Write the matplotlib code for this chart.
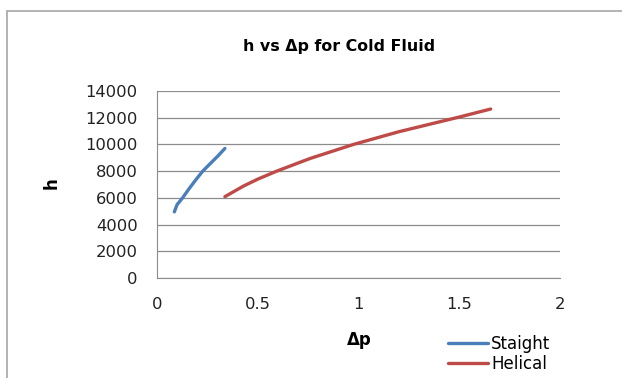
import matplotlib.pyplot as plt
from matplotlib.patches import Rectangle

# values
straight_dp = [0.086, 0.10, 0.127, 0.16, 0.19, 0.227, 0.26, 0.30, 0.337]
straight_h = [4950, 5500, 6000, 6700, 7300, 8000, 8500, 9100, 9700]

helical_dp = [0.337, 0.43, 0.50, 0.594, 0.76, 0.975, 1.2, 1.5, 1.656]
helical_h = [6090, 6890, 7400, 8000, 8950, 10000, 10950, 12050, 12650]

x_ticks = [0, 0.5, 1, 1.5, 2]
x_tick_labels = ['0', '0.5', '1', '1.5', '2']
y_ticks = [0, 2000, 4000, 6000, 8000, 10000, 12000, 14000]

BLUE = '#4a7ebb'
RED = '#be4b48'
GRID = '#8c8c8c'

plt.rcParams['font.family'] = ['DejaVu Sans']

fig = plt.figure(figsize=(6.22, 3.78), dpi=100)
fig.patch.set_facecolor('white')

# outer chart frame (cut off at the right and bottom)
fig.patches.append(Rectangle((7 / 622, -0.1), 1.2, 1.1 - 11 / 378,
                             transform=fig.transFigure, fill=False,
                             edgecolor='#a6a6a6', linewidth=1.2))

ax = fig.add_axes([157 / 622, 1 - 278 / 378, (560 - 157) / 622, (278 - 91) / 378])
ax.plot(straight_dp, straight_h, color=BLUE, linewidth=2.4,
        solid_capstyle='round', solid_joinstyle='round', label='Staight')
ax.plot(helical_dp, helical_h, color=RED, linewidth=2.4,
        solid_capstyle='round', solid_joinstyle='round', label='Helical')

ax.set_xlim(0, 2)
ax.set_ylim(0, 14000)
ax.set_xticks(x_ticks)
ax.set_xticklabels(x_tick_labels)
ax.set_yticks(y_ticks)
ax.yaxis.grid(True, color=GRID, linewidth=0.9)
ax.set_axisbelow(True)
ax.tick_params(length=0, labelsize=11.8, colors='#222222')
ax.tick_params(axis='y', pad=14)
ax.tick_params(axis='x', pad=14)
for side in ['top', 'right']:
    ax.spines[side].set_visible(False)
ax.spines['left'].set_color(GRID)
ax.spines['bottom'].set_color(GRID)

fig.text(339 / 622, 1 - 47 / 378, 'h vs Δp for Cold Fluid', ha='center',
         va='center', fontsize=11.4, fontweight='bold')
fig.text(359 / 622, 1 - 340 / 378, 'Δp', ha='center', va='center',
         fontsize=12, fontweight='bold')
fig.text(52 / 622, 1 - 183 / 378, 'h', ha='center', va='center',
         fontsize=12, fontweight='bold', rotation=90)

fig.legend(loc='upper left', bbox_to_anchor=(441 / 622, 1 - 328 / 378),
           frameon=False, fontsize=12, handlelength=2.4, handletextpad=0.2,
           labelspacing=0.12, borderaxespad=0)

fig.savefig('out.png', dpi=100, facecolor=fig.get_facecolor())
